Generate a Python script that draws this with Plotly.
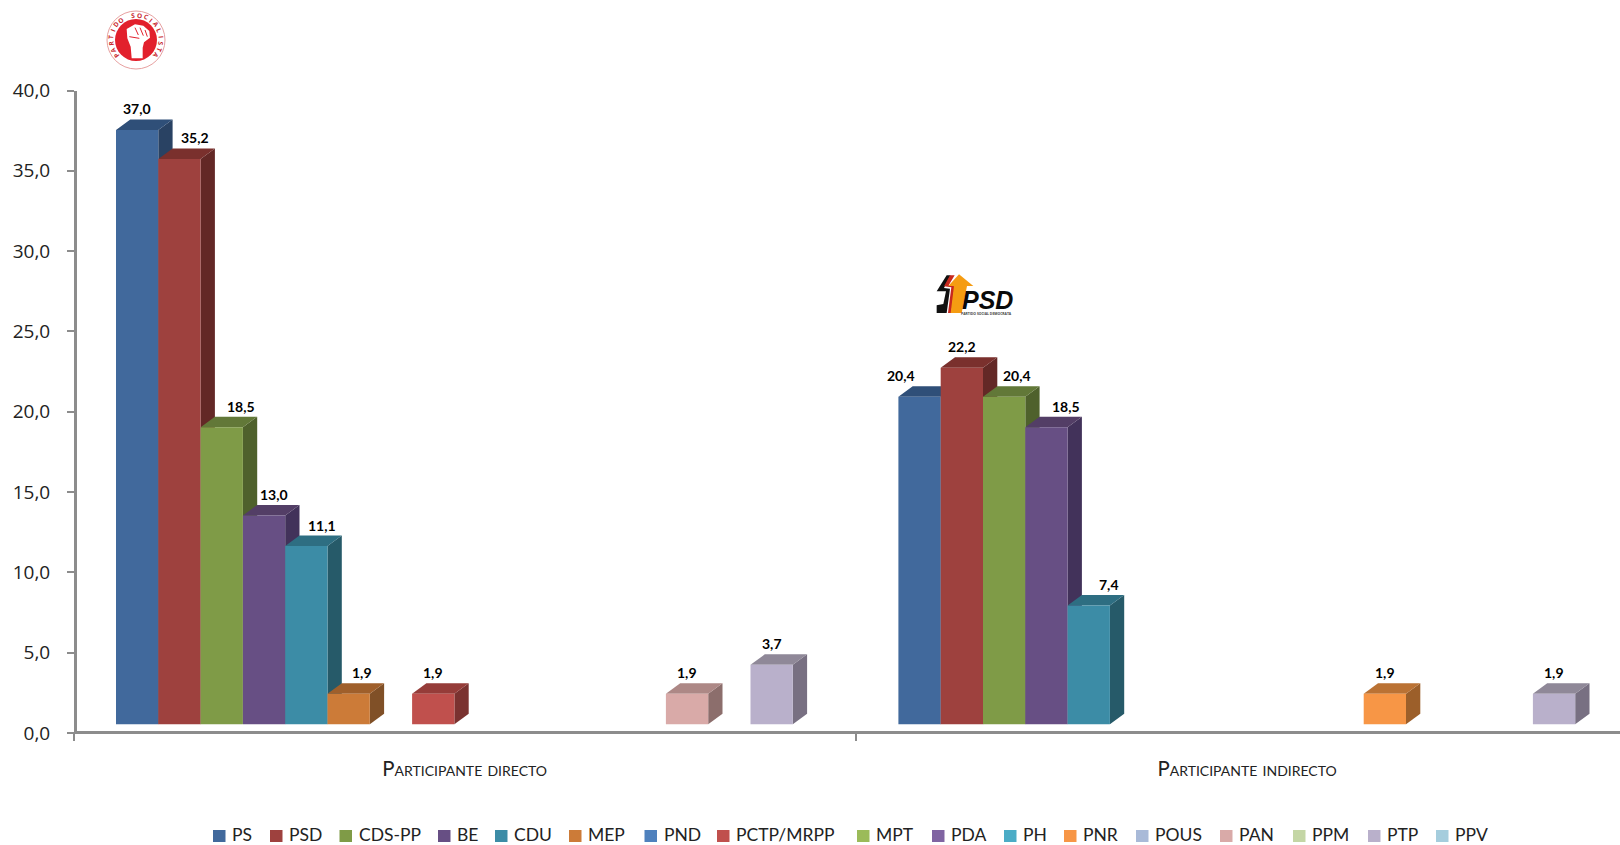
import math
import plotly.graph_objects as go

# ---------- data ----------
series = ["PS", "PSD", "CDS-PP", "BE", "CDU", "MEP", "PND", "PCTP/MRPP", "MPT", "PDA",
          "PH", "PNR", "POUS", "PAN", "PPM", "PTP", "PPV"]
categories = ["Participante directo", "Participante indirecto"]
direct = [37.0, 35.2, 18.5, 13.0, 11.1, 1.9, None, 1.9, None, None, None, None, None, 1.9, None, 3.7, None]
indirect = [20.4, 22.2, 20.4, 18.5, 7.4, None, None, None, None, None, None, 1.9, None, None, None, 1.9, None]
y_ticks = [0, 5, 10, 15, 20, 25, 30, 35, 40]

# ---------- styles ----------
front = ["#41699C", "#9E413E", "#7F9B47", "#674F84", "#3C8CA6", "#CC7B38", "#4F81BD", "#C0504D", "#9BBB59",
         "#8064A2", "#4BACC6", "#F79646", "#A9BAD8", "#D9AAA8", "#C4D6A5", "#B9B0CB", "#A5CDDD"]
top = ["#2F4F78", "#7A302D", "#627838", "#533E66", "#2E6E82", "#9F5F2B", "#3C6494", "#953C39", "#788F44",
       "#614C7C", "#3A8499", "#BA7234", "#8490A8", "#AD8886", "#98A680", "#8F8898", "#80A0AC"]
side = ["#294263", "#632826", "#4F612C", "#42325A", "#265A69", "#805027", "#315277", "#7A3230", "#617537",
        "#503F65", "#2F6B7C", "#9C5F2A", "#6A7487", "#8C6E6C", "#7B8667", "#787082", "#677F8A"]
# data-label horizontal nudges (px) to avoid overlaps, per category and series
label_shift = [
    {1: 16, 2: 19, 3: 10, 4: 16, 5: 13},
    {0: -19, 2: 13, 3: 20, 4: 20},
]
legend_x = [213, 270, 339.5, 438, 495, 569, 644.5, 717, 857, 932, 1004, 1064, 1136, 1220, 1293, 1368, 1436]

W, H = 1620, 845
AX_L, AX_B, AX_T = 73.5, 733.0, 90.5
CAT_PX = 782.4
BAR_PX, FIRST_PX, DX_PX, DY_PX, BASE_PX = 42.3, 42.5, 14.3, 10.5, 8.7
PX_Y = (AX_B - AX_T) / 40
PX_X = 1 / CAT_PX
bar_w = BAR_PX * PX_X
dx = DX_PX * PX_X
dy = DY_PX / PX_Y
base = BASE_PX / PX_Y
X_MAX = (W - AX_L) / CAT_PX
AXIS_COL = "#8C8C8C"
LATO = "Lato, Carlito, Calibri, sans-serif"
OPEN = "Open Sans, Verdana, sans-serif"

fig = go.Figure()
annotations, shapes = [], []

def px(x):
    return x / W
def py(y):
    return 1 - y / H

def cx(c, i):
    return c + (FIRST_PX + BAR_PX * (i + 0.5)) * PX_X

# 3D faces, series by series so that later series overlay earlier ones
for i, name in enumerate(series):
    sx, sy, tx, ty = [], [], [], []
    for c, vals in enumerate((direct, indirect)):
        v = vals[i]
        if v is None:
            continue
        l = cx(c, i) - bar_w / 2
        r = l + bar_w
        t = base + v
        sx += [r, r + dx, r + dx, r, r, None]
        sy += [base, base + dy, t + dy, t, base, None]
        tx += [l, l + dx, r + dx, r, l, None]
        ty += [t, t + dy, t + dy, t, t, None]
    if sx:
        fig.add_trace(go.Scatter(x=sx, y=sy, mode="lines", fill="toself", fillcolor=side[i], line=dict(width=0),
                                 hoverinfo="skip", showlegend=False))
        fig.add_trace(go.Scatter(x=tx, y=ty, mode="lines", fill="toself", fillcolor=top[i], line=dict(width=0),
                                 hoverinfo="skip", showlegend=False))

# front faces on an overlaying axis pair so they sit above the faces of earlier series
for i, name in enumerate(series):
    xs = [cx(c, i) for c in range(2)]
    ys = [direct[i], indirect[i]]
    fig.add_trace(go.Bar(x=xs, y=ys, base=base, width=bar_w, name=name, marker=dict(color=front[i], line=dict(width=0)),
                         xaxis="x2", yaxis="y2", showlegend=False))

# data labels
for c, vals in enumerate((direct, indirect)):
    for i, v in enumerate(vals):
        if v is None:
            continue
        annotations.append(dict(x=cx(c, i), y=base + v, xref="x", yref="y", text=f"{v:.1f}".replace(".", ","),
                                showarrow=False, xanchor="center", yanchor="middle", yshift=21,
                                xshift=label_shift[c].get(i, 0),
                                font=dict(family=LATO, size=14, color="#000000", weight="bold")))

# legend row
for i, name in enumerate(series):
    lx = legend_x[i]
    shapes.append(dict(type="rect", xref="paper", yref="paper", x0=px(lx), x1=px(lx + 12.5), y0=py(842), y1=py(830),
                       fillcolor=front[i], line=dict(width=0)))
    annotations.append(dict(x=px(lx + 17), y=py(834), xref="paper", yref="paper", text=name, showarrow=False,
                            xanchor="left", yanchor="middle",
                            font=dict(family=LATO, size=17.5, color="#222222")))

# logos
def poly(points, color, closed=True):
    d = "M" + " L".join(f"{px(a):.5f},{py(b):.5f}" for a, b in points) + (" Z" if closed else "")
    shapes.append(dict(type="path", path=d, xref="paper", yref="paper", fillcolor=color, line=dict(width=0)))

def stroke(points, color, width):
    d = "M" + " L".join(f"{px(a):.5f},{py(b):.5f}" for a, b in points)
    shapes.append(dict(type="path", path=d, xref="paper", yref="paper", line=dict(width=width, color=color)))

def circle(cxp, cyp, r, fill, line=None):
    shapes.append(dict(type="circle", xref="paper", yref="paper", x0=px(cxp - r), x1=px(cxp + r), y0=py(cyp + r),
                       y1=py(cyp - r), fillcolor=fill, line=dict(width=1 if line else 0, color=line or fill)))

LC = (136, 40)
circle(*LC, 29, "#FFFFFF", "#E7A0A0")
circle(*LC, 21, "#E2202C")
def z(pts):
    return [(100 + a / 3, 5 + b / 3) for a, b in pts]
def z2(pts):
    return [(930 + a / 3, 268 + b / 3) for a, b in pts]
poly(z([(95, 160), (92, 125), (82, 100), (80, 72), (105, 58), (130, 62), (148, 78), (150, 98), (132, 112), (128, 128),
        (128, 160)]), "#FFFFFF")
stroke(z([(105, 68), (115, 90)]), "#E2202C", 1)
stroke(z([(120, 68), (130, 92)]), "#E2202C", 1)
stroke(z([(135, 75), (142, 95)]), "#E2202C", 1)
stroke(z([(88, 95), (118, 100)]), "#E2202C", 1)
word = "PARTIDO SOCIALISTA"
n = len(word)
for k, ch in enumerate(word):
    ang = -128 + 256 * k / (n - 1)
    rad = math.radians(ang)
    annotations.append(dict(x=px(LC[0] + 25 * math.sin(rad)), y=py(LC[1] - 25 * math.cos(rad)), xref="paper", yref="paper",
                            text=ch, showarrow=False, textangle=ang, xanchor="center", yanchor="middle",
                            font=dict(family=OPEN, size=6.5, color="#C8282E", weight="bold")))

poly(z2([(50, 22), (20, 70), (48, 70), (40, 108), (20, 112), (20, 135), (50, 135), (60, 62), (42, 60), (62, 22)]), "#111111")
poly(z2([(60, 22), (42, 55), (64, 58), (54, 135), (64, 135), (74, 55), (56, 52), (74, 22)]), "#C8281E")
poly(z2([(87, 19), (130, 54), (111, 54), (95, 135), (62, 135), (72, 54), (55, 54)]), "#F59C12")
annotations.append(dict(x=px(988), y=py(299.5), xref="paper", yref="paper", text="<b><i>PSD</i></b>", showarrow=False,
                        xanchor="center", yanchor="middle",
                        font=dict(family="Liberation Sans, Arial, sans-serif", size=25, color="#0A0A0A")))
annotations.append(dict(x=px(986.5), y=py(313), xref="paper", yref="paper", text="PARTIDO SOCIAL DEMOCRATA", showarrow=False,
                        xanchor="center", yanchor="middle",
                        font=dict(family=OPEN, size=3.4, color="#444444", weight="bold")))

xax = dict(range=[0, X_MAX], domain=[AX_L / W, 1], automargin=False)
yax = dict(range=[0, 40], domain=[1 - AX_B / H, 1 - AX_T / H], automargin=False)
fig.update_layout(
    width=W, height=H, margin=dict(l=0, r=0, t=0, b=0, autoexpand=False), autosize=False,
    paper_bgcolor="white", plot_bgcolor="white", barmode="overlay", showlegend=False,
    xaxis=dict(**xax, tickmode="array", tickvals=[c + 0.5 for c in range(2)], ticktext=categories, ticks="",
               showgrid=False, zeroline=False, showline=True, linecolor=AXIS_COL, linewidth=2.5, ticklabelstandoff=18,
               anchor="free", position=1 - (AX_B - 1.25) / H,
               tickfont=dict(family=LATO, size=20.4, color="#222222", variant="small-caps"),
               minor=dict(tickmode="array", tickvals=[0, 1, 2], ticks="outside", ticklen=7, tickwidth=2, tickcolor=AXIS_COL)),
    yaxis=dict(**yax, tickmode="array", tickvals=y_ticks, ticktext=[f"{t:.1f}".replace(".", ",") for t in y_ticks],
               ticks="outside", ticklen=7, tickwidth=2, tickcolor=AXIS_COL, showgrid=False, zeroline=False, showline=True,
               linecolor=AXIS_COL, linewidth=2.5, ticklabelstandoff=13,
               anchor="free", position=(AX_L + 1.25) / W,
               tickfont=dict(family=OPEN, size=19, color="#222222")),
    xaxis2=dict(**xax, overlaying="x", visible=False),
    yaxis2=dict(**yax, overlaying="y", visible=False),
    annotations=annotations, shapes=shapes,
)
fig.write_html("out.html", config=dict(displayModeBar=False),
               post_script="document.body.style.margin='0';document.body.style.overflow='hidden';")
